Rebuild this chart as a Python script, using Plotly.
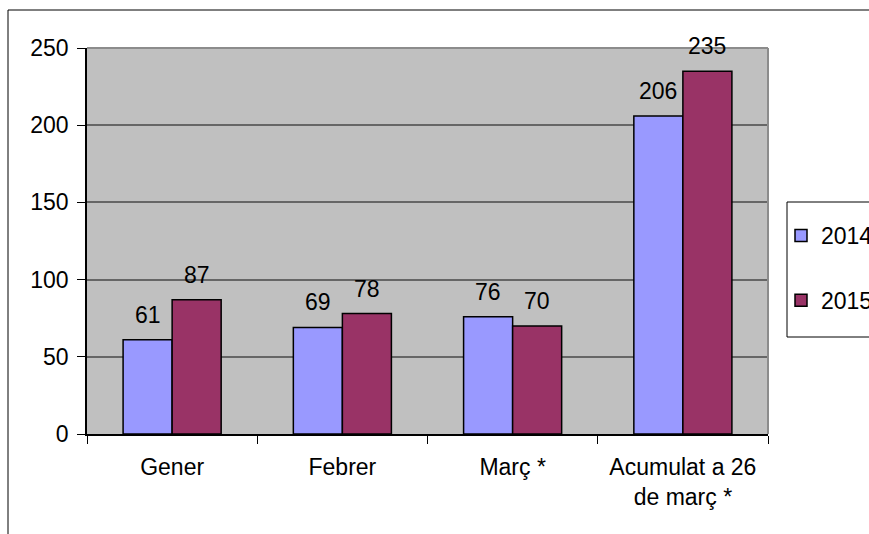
import plotly.graph_objects as go

categories = ["Gener", "Febrer", "Març *", "Acumulat a 26<br>de març *"]
series_names = ["2014", "2015"]
values_2014 = [61, 69, 76, 206]
values_2015 = [87, 78, 70, 235]
y_ticks = [0, 50, 100, 150, 200, 250]

FONT = "Liberation Sans, Arial, sans-serif"
FS = 23
W, H = 869, 534
L, R, T, B = 87, 101, 48, 100
pw = W - L - R
ph = H - T - B

def px_x(x):
    return (x - L) / pw

def px_y(y):
    return (H - B - y) / ph

colors = ["#9999FF", "#993366"]
bargap = 0.424

fig = go.Figure()
for name, vals, col in zip(series_names, [values_2014, values_2015], colors):
    fig.add_trace(go.Bar(
        x=categories, y=vals, name=name, legendgroup=name,
        marker=dict(color=col, line=dict(color="black", width=1.5)),
    ))

bar_px = pw / len(categories) * (1 - bargap) / 2
annotations = []
for i, vals in enumerate([values_2014, values_2015]):
    shift = (-0.5 if i == 0 else 0.5) * bar_px
    for c, v in zip(categories, vals):
        annotations.append(dict(
            x=c, y=v, xref="x", yref="y", text=str(v), showarrow=False,
            xshift=shift, yshift=10, yanchor="bottom",
            font=dict(family=FONT, size=FS, color="black"),
        ))

shapes = [
    # outer chart border
    dict(type="rect", xref="paper", yref="paper",
         x0=px_x(8), x1=px_x(900), y0=px_y(560), y1=px_y(10),
         line=dict(color="black", width=1), fillcolor="rgba(0,0,0,0)"),
    # legend box
    dict(type="rect", xref="paper", yref="paper",
         x0=px_x(787), x1=px_x(900), y0=px_y(337), y1=px_y(202),
         line=dict(color="black", width=1), fillcolor="white", layer="below"),
    # plot area top/right border
    dict(type="line", xref="paper", yref="paper", x0=0, x1=1, y0=1, y1=1,
         line=dict(color="#8c8c8c", width=2)),
    dict(type="line", xref="paper", yref="paper", x0=1, x1=1, y0=0, y1=1,
         line=dict(color="#8c8c8c", width=2)),
]

fig.update_layout(
    width=W, height=H,
    margin=dict(l=L, r=R, t=T, b=B, autoexpand=False),
    paper_bgcolor="white", plot_bgcolor="#C0C0C0",
    font=dict(family=FONT, size=FS, color="black"),
    barmode="group", bargap=bargap, bargroupgap=0,
    showlegend=True,
    legend=dict(x=px_x(781), y=px_y(214), xanchor="left", yanchor="top",
                bgcolor="rgba(0,0,0,0)", borderwidth=0,
                tracegroupgap=32, font=dict(family=FONT, size=FS, color="black")),
    annotations=annotations, shapes=shapes,
    xaxis=dict(showline=True, linecolor="black", linewidth=1.5,
               ticks="outside", tickson="boundaries", ticklen=8,
               tickcolor="black", showgrid=False,
               ticklabelstandoff=12,
               tickfont=dict(family=FONT, size=FS, color="black")),
    yaxis=dict(range=[0, 250], tickvals=y_ticks, showline=True,
               linecolor="black", linewidth=1.5, ticks="outside", ticklen=8,
               tickcolor="black", showgrid=True, gridcolor="#666666",
               gridwidth=1.5, zeroline=False, ticklabelstandoff=4,
               tickfont=dict(family=FONT, size=FS, color="black")),
)

fig.write_html(
    "out.html",
    config={"displayModeBar": False},
    post_script="document.body.style.margin='0';document.body.style.overflow='hidden';",
)
